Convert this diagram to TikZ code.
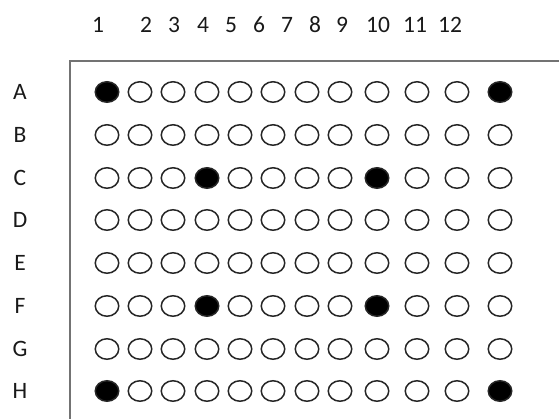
\documentclass[tikz,border=0pt]{standalone}
\usepackage{fontspec}
\setmainfont{Carlito}
\usetikzlibrary{shapes.geometric,positioning}

\begin{document}
\begin{tikzpicture}[
    x=1pt, y=-1pt,
    well/.style={ellipse,draw=black!85,line width=1.5pt,minimum width=23.5pt,minimum height=20.5pt,inner sep=0pt},
    lbl/.style={inner sep=0pt,text=black!90,font=\fontsize{23.5}{28}\selectfont},
    frame/.style={draw=black!55,line width=1.3pt}
]
\useasboundingbox (0,0) rectangle (559,419);

% plate edge
\coordinate (tl) at (70,61);
\coordinate (tr) at (559,61);
\coordinate (bl) at (70,419);
\draw[frame] (tr) -- (tl) -- (bl);

% column numbers
\foreach \n/\xx in {1/98,2/146,3/174,4/203,5/231,6/259,7/287,8/315,9/342,10/378,11/415,12/450}
    \node[lbl] (col\n) at (\xx,25) {\n};

% rows of wells, with the two filled ones of each row
\foreach \r/\yy/\fa/\fb in {A/92/1/12,B/135/0/0,C/178/4/9,D/220/0/0,E/263/0/0,F/306/4/9,G/349/0/0,H/391/1/12}{
    \node[lbl] (row\r) at (20,\yy) {\r};
    \foreach \xx [count=\c] in {107,140,173,207,240,273,307,340,377,417,457,500}{
        \ifnum\c=\fa \def\fc{black}\else\ifnum\c=\fb \def\fc{black}\else\def\fc{white}\fi\fi
        \node[well,fill=\fc] (\r\c) at (\xx,\yy) {};
    }
}
\end{tikzpicture}
\end{document}
